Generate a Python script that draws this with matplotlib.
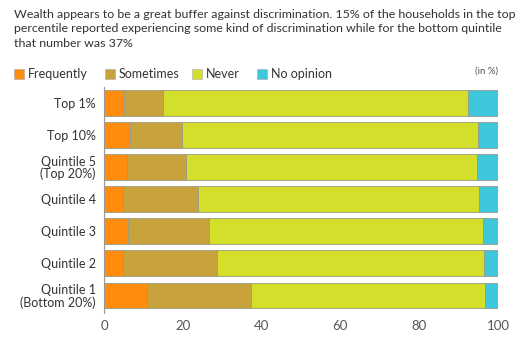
import numpy as np
import matplotlib.pyplot as plt
from matplotlib.patches import Rectangle

plt.rcParams['font.family'] = ['Lato', 'DejaVu Sans']

groups = ["Top 1%", "Top 10%", "Quintile 5\n(Top 20%)", "Quintile 4",
          "Quintile 3", "Quintile 2", "Quintile 1\n(Bottom 20%)"]
frequently = [5.0, 6.6, 5.8, 4.7, 6.2, 4.7, 11.0]
sometimes = [10.0, 13.3, 14.9, 19.1, 20.4, 23.9, 26.2]
never = [77.3, 74.9, 74.0, 71.5, 69.5, 67.9, 59.5]
no_opinion = [7.7, 5.2, 5.3, 4.7, 3.9, 3.5, 3.3]

series = [("Frequently", frequently, "#ff8c0c"),
          ("Sometimes", sometimes, "#c8a33c"),
          ("Never", never, "#d3df2b"),
          ("No opinion", no_opinion, "#3ec6da")]

fig = plt.figure(figsize=(5.22, 3.44), dpi=100)
ax = fig.add_axes([104 / 522, (344 - 313) / 344, 394 / 522, (313 - 87) / 344])

y = np.arange(len(groups))
left = np.zeros(len(groups))
for name, vals, color in series:
    vals = np.array(vals)
    ax.barh(y, vals, left=left, height=0.8, color=color,
            edgecolor="#9a9a8a", linewidth=0.6, label=name)
    left += vals

ax.set_xlim(0, 100)
ax.set_ylim(len(groups) - 0.45, -0.5)
ax.set_yticks(y)
ax.set_yticklabels(groups, fontsize=9, color="#333333", linespacing=1.0)
ax.set_xticks([0, 20, 40, 60, 80, 100])
ax.tick_params(axis="x", length=0, labelsize=9.5, colors="#555555", pad=5)
ax.tick_params(axis="y", length=0, pad=6)
for s in ["top", "right", "bottom"]:
    ax.spines[s].set_visible(False)
ax.spines["left"].set_color("#999999")
ax.spines["left"].set_linewidth(0.8)

fig.text(14 / 522, 1 - 9 / 344,
         "Wealth appears to be a great buffer against discrimination. 15% of the households in the top\n"
         "percentile reported experiencing some kind of discrimination while for the bottom quintile\n"
         "that number was 37%",
         ha="left", va="top", fontsize=8.9, color="#333333", linespacing=1.38)

# legend row
leg_x = [14, 105, 192, 257]
for (name, vals, color), lx in zip(series, leg_x):
    fig.patches.append(Rectangle((lx / 522, 1 - 79 / 344), 10 / 522, 10 / 344,
                                 transform=fig.transFigure, facecolor=color,
                                 edgecolor="#aaaaaa", linewidth=0.4))
    fig.text((lx + 14) / 522, 1 - 74 / 344, name, ha="left", va="center",
             fontsize=9, color="#333333")
fig.text(498 / 522, 1 - 71 / 344, "(in %)", ha="right", va="center",
         fontsize=7, color="#555555")

fig.savefig("out.png", dpi=100)
